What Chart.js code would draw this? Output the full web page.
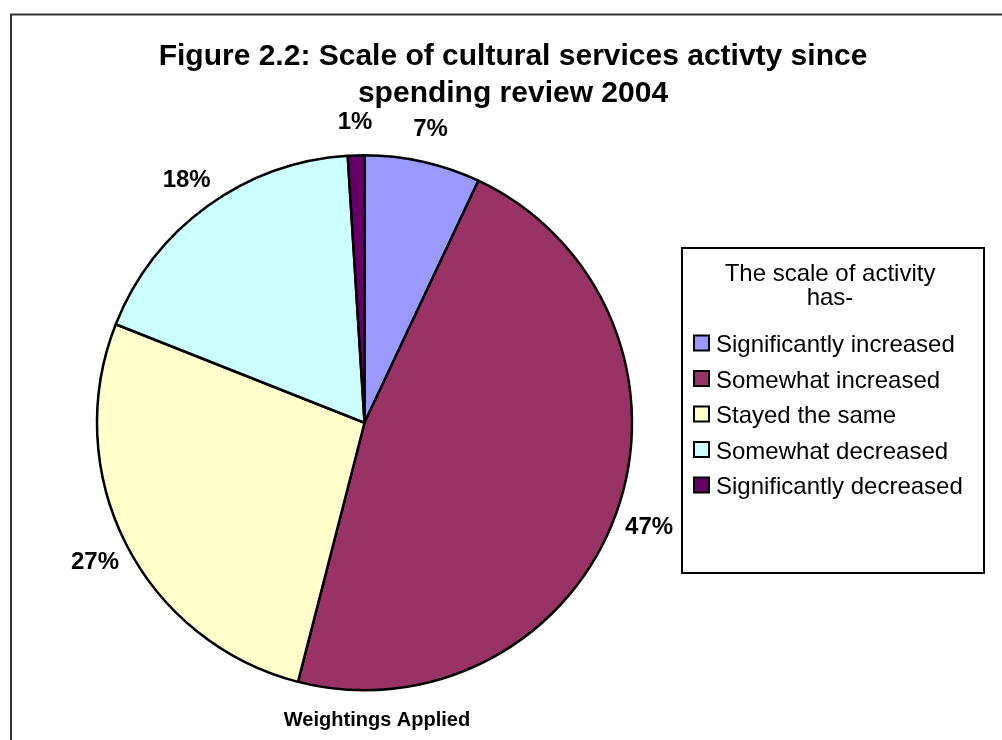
<!DOCTYPE html>
<html>
<head>
<meta charset="utf-8">
<title>Scale of cultural services activity</title>
<script src="https://cdn.jsdelivr.net/npm/chart.js@4.4.1/dist/chart.umd.min.js"></script>
<style>
  html, body { margin: 0; padding: 0; background: #fff; }
  #wrap { width: 1002px; height: 740px; }
</style>
</head>
<body>
<div id="wrap"><canvas id="activityChart" width="1002" height="740"></canvas></div>
<script>
const categories = [
    'Significantly increased',
    'Somewhat increased',
    'Stayed the same',
    'Somewhat decreased',
    'Significantly decreased'
];
const shares = [7, 47, 27, 18, 1];
const sliceColours = ['#9999FF', '#993366', '#FFFFCC', '#CCFFFF', '#660066'];

const titleLines = ['Figure 2.2: Scale of cultural services activty since', 'spending review 2004'];
const legendTitle = ['The scale of activity', 'has-'];
const footnote = 'Weightings Applied';

const FONT = '"Liberation Sans", Arial, sans-serif';

// frame, heading, outside labels and the boxed legend
const decorations = {
    id: 'decorations',
    beforeDraw(chart) {
        const ctx = chart.ctx;
        ctx.save();
        ctx.fillStyle = '#fff';
        ctx.fillRect(0, 0, chart.width, chart.height);
        ctx.strokeStyle = '#333';
        ctx.lineWidth = 2;
        ctx.beginPath();
        ctx.moveTo(11, chart.height + 5);
        ctx.lineTo(11, 14.5);
        ctx.lineTo(chart.width + 5, 14.5);
        ctx.stroke();
        ctx.restore();
    },
    afterDraw(chart) {
        const ctx = chart.ctx;
        ctx.save();
        ctx.fillStyle = '#000';
        ctx.textAlign = 'center';
        ctx.textBaseline = 'alphabetic';

        ctx.font = 'bold 30px ' + FONT;
        titleLines.forEach((line, i) => ctx.fillText(line, 513, 65 + i * 37));

        // percentage labels sit just outside the slice, on its mid angle
        const meta = chart.getDatasetMeta(0);
        const total = shares.reduce((a, b) => a + b, 0);
        ctx.font = 'bold 24px ' + FONT;
        meta.data.forEach((arc, i) => {
            const p = arc.getProps(['x', 'y', 'startAngle', 'endAngle', 'outerRadius'], true);
            const mid = (p.startAngle + p.endAngle) / 2;
            const dist = p.outerRadius + 35;
            const x = p.x + Math.cos(mid) * dist;
            const y = p.y + Math.sin(mid) * dist;
            ctx.fillText(Math.round(shares[i] / total * 100) + '%', x, y + 8.5);
        });

        ctx.font = 'bold 20px ' + FONT;
        ctx.fillText(footnote, 377, 726);

        // legend
        ctx.strokeStyle = '#000';
        ctx.lineWidth = 2;
        ctx.strokeRect(682, 248, 302, 325);

        ctx.font = '24px ' + FONT;
        legendTitle.forEach((line, i) => ctx.fillText(line, 830, 281 + i * 24));

        ctx.textAlign = 'left';
        categories.forEach((name, i) => {
            const base = 352 + i * 35.5;
            ctx.fillStyle = sliceColours[i];
            ctx.fillRect(694, base - 16.5, 15, 15);
            ctx.strokeRect(694, base - 16.5, 15, 15);
            ctx.fillStyle = '#000';
            ctx.fillText(name, 716, base);
        });
        ctx.restore();
    }
};

const ctx = document.getElementById('activityChart').getContext('2d');

const data = {
    labels: categories,
    datasets: [
    {
        data: shares,
        backgroundColor: sliceColours,
        borderColor: '#000',
        borderWidth: 2.5
    }
    ]
};

const config = {
    type: 'pie',
    data: data,
    options: {
    responsive: false,
    animation: false,
    radius: 267.5,
    layout: {
        padding: { left: 97, right: 370, top: 155, bottom: 49.5 }
    },
    plugins: {
        legend: { display: false },
        tooltip: { enabled: false },
        title: { display: false }
    }
    },
    plugins: [decorations]
};

const activityChart = new Chart(ctx, config);
</script>
</body>
</html>
